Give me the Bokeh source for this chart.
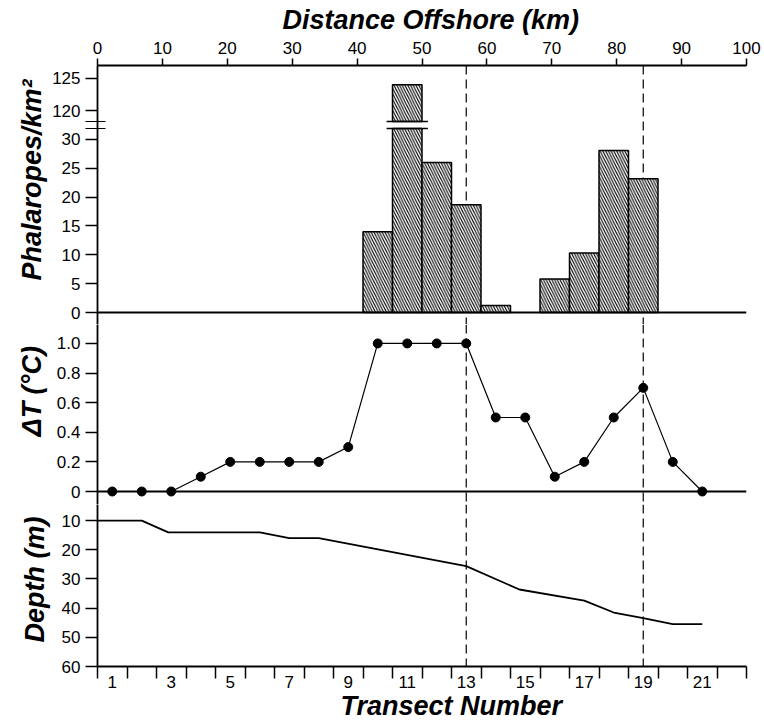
from bokeh.plotting import figure
from bokeh.layouts import column
from bokeh.models import Range1d, LinearAxis, FixedTicker, Span, Title
from bokeh.embed import file_html
from bokeh.resources import INLINE

# ---------------- data ----------------
transects = list(range(1, 23))
phalaropes = [0, 0, 0, 0, 0, 0, 0, 0, 0, 14.0, 124.0, 26.0, 18.7, 1.2, 0,
              5.8, 10.3, 28.1, 23.2, 0, 0, 0]
dt_transects = list(range(1, 22))
delta_t = [0, 0, 0, 0.1, 0.2, 0.2, 0.2, 0.2, 0.3, 1.0, 1.0, 1.0, 1.0, 0.5, 0.5,
           0.1, 0.2, 0.5, 0.7, 0.2, 0.0]
depth_x = [0.5, 2, 2.9, 6, 7, 8, 13, 14.8, 17, 18, 19, 20, 21]
depth_m = [10, 10, 14, 14, 16, 16, 25.6, 33.6, 37.4, 41.5, 43.4, 45.5, 45.5]
front_transects = [13, 19]

km_ticks = list(range(0, 101, 10))
phal_ticks_low = [0, 5, 10, 15, 20, 25, 30]
phal_ticks_high = [120, 125]
dt_ticks = [0, 0.2, 0.4, 0.6, 0.8, 1.0]
dt_labels = ["0", "0.2", "0.4", "0.6", "0.8", "1.0"]
depth_ticks = [10, 20, 30, 40, 50, 60]
transect_labels = list(range(1, 22, 2))
transect_bounds = [k + 0.5 for k in range(0, 23)]

# ---------------- broken axis mapping (top panel) ----------------
BREAK_LOW = 31.9      # axis position where the lower part is cut
BREAK_HIGH = 33.1     # axis position where the upper part resumes
UPPER_BASE = 120
UPPER_POS = 35.0
UPPER_SCALE = 1.125


def phal_pos(v):
    return v if v <= 31 else UPPER_POS + (v - UPPER_BASE) * UPPER_SCALE


FONT = "Liberation Sans"
W = 764
x_range = Range1d(0.5, 22.5)


def make_fig(height, y_range, mb_top=0, mb_bottom=0):
    p = figure(width=W, height=height, x_range=x_range, y_range=y_range,
               output_backend="svg", toolbar_location=None,
               x_axis_type=None, y_axis_type=None, title=None,
               min_border_left=97, min_border_right=18,
               min_border_top=mb_top, min_border_bottom=mb_bottom)
    p.outline_line_color = None
    p.background_fill_color = "white"
    p.border_fill_color = "white"
    return p


def style_axis(ax):
    ax.axis_line_width = 1.8
    ax.axis_line_color = "black"
    ax.major_tick_line_width = 1.5
    ax.major_tick_line_color = "black"
    ax.major_tick_in = 0
    ax.major_tick_out = 12
    ax.minor_tick_in = 0
    ax.minor_tick_out = 0
    ax.major_label_text_font = FONT
    ax.major_label_text_font_size = "17px"
    ax.major_label_text_color = "black"


def make_title(text, align, offset, standoff, valign="bottom"):
    return Title(text=text, align=align, offset=offset, text_font=FONT,
                 text_font_style="bold italic", text_font_size="27px",
                 text_color="black", standoff=standoff, vertical_align=valign)


def add_fronts(p):
    for t in front_transects:
        p.add_layout(Span(location=t, dimension="height", line_color="black",
                          line_width=1.2, line_dash="9 5", level="underlay"))


# ---------------- top panel: phalaropes ----------------
top = make_fig(324, Range1d(-2.08, 42.83), mb_top=65)
add_fronts(top)

left_l, right_l, bot_l, top_l = [], [], [], []
for t, v in zip(transects, phalaropes):
    if v <= 0:
        continue
    if v > 31:
        left_l += [t - 0.5, t - 0.5]
        right_l += [t + 0.5, t + 0.5]
        bot_l += [0, BREAK_HIGH]
        top_l += [BREAK_LOW, phal_pos(v)]
    else:
        left_l.append(t - 0.5)
        right_l.append(t + 0.5)
        bot_l.append(0)
        top_l.append(v)

top.quad(left=left_l, right=right_l, bottom=bot_l, top=top_l,
         fill_color="white", line_color="black", line_width=1.5,
         hatch_pattern="\\", hatch_color="black", hatch_scale=5.5, hatch_weight=1.1)

# break marks on the tall bar
for t, v in zip(transects, phalaropes):
    if v > 31:
        top.segment(x0=[t - 0.7, t - 0.7], x1=[t + 0.7, t + 0.7],
                    y0=[BREAK_LOW, BREAK_HIGH], y1=[BREAK_LOW, BREAK_HIGH],
                    line_color="black", line_width=1.5)

top.line(x=[transect_bounds[0], transect_bounds[-1]], y=[0, 0],
         line_color="black", line_width=1.8)

ax_top = LinearAxis(x_range_name="km", ticker=FixedTicker(ticks=km_ticks))
top.extra_x_ranges = {"km": Range1d(0, 100)}
style_axis(ax_top)
ax_top.major_tick_out = 7
ax_top.major_label_standoff = 5
top.add_layout(ax_top, "above")
top.add_layout(make_title("Distance Offshore (km)", "left", 185, 3, "top"), "above")

phal_tick_pos = phal_ticks_low + [phal_pos(v) for v in phal_ticks_high]
ay_top = LinearAxis(ticker=FixedTicker(ticks=phal_tick_pos,
                                       minor_ticks=[BREAK_LOW, BREAK_HIGH]))
style_axis(ay_top)
ay_top.minor_tick_out = 12
ay_top.minor_tick_in = 8
ay_top.minor_tick_line_width = 1.2
ay_top.minor_tick_line_color = "black"
ay_top.major_label_standoff = 5
ay_top.major_label_overrides = {phal_pos(v): str(v) for v in phal_ticks_high}
top.add_layout(ay_top, "left")
top.add_layout(make_title("Phalaropes/km²", "left", 44, 6), "left")

# ---------------- middle panel: delta T ----------------
mid = make_fig(180, Range1d(-0.0878, 1.128))
add_fronts(mid)
mid.line(x=[transect_bounds[0], transect_bounds[-1]], y=[0, 0],
         line_color="black", line_width=1.8)
mid.line(x=dt_transects, y=delta_t, line_color="black", line_width=1.2)
mid.scatter(x=dt_transects, y=delta_t, size=9, fill_color="black",
            line_color="black")
ay_mid = LinearAxis(ticker=FixedTicker(ticks=dt_ticks))
style_axis(ay_mid)
ay_mid.major_label_standoff = 5
ay_mid.major_label_overrides = dict(zip(dt_ticks, dt_labels))
mid.add_layout(ay_mid, "left")
mid.add_layout(make_title("ΔT (°C)", "left", 68, 14), "left")

# ---------------- bottom panel: depth ----------------
bot = make_fig(218, Range1d(60, 4.46), mb_bottom=56)
add_fronts(bot)
bot.line(x=depth_x, y=depth_m, line_color="black", line_width=1.8)
ay_bot = LinearAxis(ticker=FixedTicker(ticks=depth_ticks))
style_axis(ay_bot)
ay_bot.major_label_standoff = 5
bot.add_layout(ay_bot, "left")
bot.add_layout(make_title("Depth (m)", "left", 24, 18), "left")

ax_bot = LinearAxis(ticker=FixedTicker(ticks=transect_labels,
                                       minor_ticks=transect_bounds))
style_axis(ax_bot)
ax_bot.major_tick_out = 0
ax_bot.minor_tick_out = 12
ax_bot.minor_tick_line_width = 1.5
ax_bot.minor_tick_line_color = "black"
ax_bot.major_label_standoff = -3
bot.add_layout(ax_bot, "below")
bot.add_layout(make_title("Transect Number", "left", 243, -3), "below")

layout = column(top, mid, bot, spacing=0)
open("out.html", "w").write(file_html(layout, INLINE))
